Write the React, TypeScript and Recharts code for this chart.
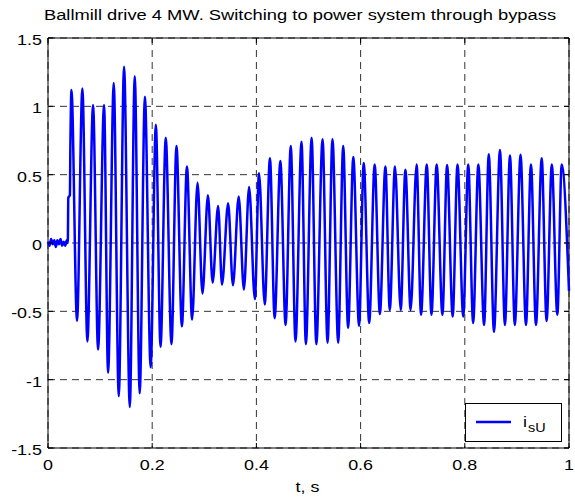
import { CartesianGrid, Line, LineChart, ReferenceArea, XAxis, YAxis } from "recharts";

// time / value pairs (t in s, current in p.u.)
const preTimes = [0, 0.003, 0.006, 0.009, 0.012, 0.015, 0.018, 0.021, 0.024, 0.027, 0.03, 0.033, 0.036, 0.038, 0.039, 0.042, 0.043];
const preValues = [0.01, -0.02, 0.03, -0.01, 0.02, -0.03, 0.02, -0.01, 0.03, -0.02, 0.01, -0.02, 0.02, 0.0, 0.33, 0.35, 0.72];

const peakTimes = [
  0.045, 0.066, 0.0865, 0.1076, 0.1262, 0.146, 0.1665, 0.186, 0.207, 0.226, 0.2466, 0.2667, 0.287, 0.307, 0.3265, 0.3457,
  0.366, 0.386, 0.405, 0.426, 0.446, 0.466, 0.4866, 0.506, 0.527, 0.546, 0.5666, 0.586, 0.606, 0.627, 0.6476, 0.666, 0.686,
  0.7075, 0.727, 0.746, 0.766, 0.786, 0.8066, 0.826, 0.846, 0.8675, 0.8867, 0.907, 0.927, 0.9476, 0.967, 0.986,
];
const peakValues = [
  1.12, 1.13, 1.01, 1.01, 1.17, 1.29, 1.22, 1.07, 0.865, 0.77, 0.71, 0.56, 0.44, 0.35, 0.27, 0.29, 0.34, 0.41, 0.51, 0.62,
  0.6, 0.71, 0.74, 0.77, 0.76, 0.76, 0.71, 0.63, 0.585, 0.575, 0.56, 0.56, 0.536, 0.575, 0.575, 0.575, 0.57, 0.575, 0.575,
  0.575, 0.65, 0.68, 0.64, 0.645, 0.575, 0.62, 0.575, 0.575,
];

const troughTimes = [
  0.0557, 0.0756, 0.0961, 0.1153, 0.1358, 0.157, 0.176, 0.197, 0.216, 0.237, 0.257, 0.2766, 0.2965, 0.316, 0.334, 0.355,
  0.376, 0.397, 0.416, 0.435, 0.456, 0.475, 0.495, 0.515, 0.5366, 0.557, 0.576, 0.597, 0.6165, 0.637, 0.656, 0.677, 0.696,
  0.716, 0.736, 0.757, 0.7767, 0.797, 0.816, 0.837, 0.856, 0.877, 0.896, 0.9174, 0.9366, 0.957, 0.9776, 1.0,
];
const troughValues = [
  -0.57, -0.72, -0.78, -0.95, -1.12, -1.2, -1.1, -0.91, -0.76, -0.74, -0.61, -0.56, -0.37, -0.29, -0.305, -0.31, -0.34,
  -0.41, -0.45, -0.55, -0.6, -0.72, -0.74, -0.74, -0.73, -0.73, -0.62, -0.605, -0.585, -0.52, -0.49, -0.49, -0.49, -0.525,
  -0.525, -0.525, -0.537, -0.537, -0.585, -0.6, -0.65, -0.6, -0.6, -0.6, -0.6, -0.57, -0.525, -0.35,
];

const xTicks = [0, 0.2, 0.4, 0.6, 0.8, 1];
const yTicks = [-1.5, -1, -0.5, 0, 0.5, 1, 1.5];

const W = 575;
const H = 498;
const TOP = 38;
const LEFT = 48;
const RIGHT = 569;
const BOTTOM = 448;
const FONT = "'Liberation Sans', Arial, sans-serif";
const STRETCH = 1.28;

const data = [
  ...preTimes.map((t, i) => ({ t, i: preValues[i] })),
  ...peakTimes.map((t, i) => ({ t, i: peakValues[i] })),
  ...troughTimes.map((t, i) => ({ t, i: troughValues[i] })),
].sort((a, b) => a.t - b.t);

function XTick({ x, y, payload }: any) {
  return (
    <g>
      <line x1={x} x2={x} y1={BOTTOM} y2={BOTTOM - 5} stroke="#000" />
      <line x1={x} x2={x} y1={TOP} y2={TOP + 5} stroke="#000" />
      <text
        transform={`translate(${x},${y + 22}) scale(${STRETCH},1)`}
        textAnchor="middle"
        fontSize={14}
        fontFamily={FONT}
        fill="#000"
      >
        {String(payload.value)}
      </text>
    </g>
  );
}

function YTick({ x, y, payload }: any) {
  return (
    <g>
      <line x1={LEFT} x2={LEFT + 5} y1={y} y2={y} stroke="#000" />
      <line x1={RIGHT} x2={RIGHT - 5} y1={y} y2={y} stroke="#000" />
      <text
        transform={`translate(${x - 6},${y + 7}) scale(${STRETCH},1)`}
        textAnchor="end"
        fontSize={14}
        fontFamily={FONT}
        fill="#000"
      >
        {String(payload.value)}
      </text>
    </g>
  );
}

export default function App() {
  return (
    <div style={{ position: "absolute", left: 0, top: 0, width: W, height: H, background: "#fff" }}>
      <LineChart width={W} height={H} data={data} margin={{ top: TOP, right: W - RIGHT, bottom: 20, left: 0 }}>
        <CartesianGrid stroke="#333" strokeDasharray="7 5" />
        <XAxis
          dataKey="t"
          type="number"
          domain={[0, 1]}
          ticks={xTicks}
          height={30}
          axisLine={false}
          tickLine={false}
          tickSize={0}
          tickMargin={0}
          tick={<XTick />}
        />
        <YAxis
          type="number"
          domain={[-1.5, 1.5]}
          ticks={yTicks}
          width={LEFT}
          axisLine={false}
          tickLine={false}
          tickSize={0}
          tickMargin={0}
          tick={<YTick />}
        />
        <Line
          type="monotone"
          dataKey="i"
          name="isU"
          stroke="#0000ff"
          strokeWidth={2.5}
          dot={false}
          isAnimationActive={false}
        />
        <ReferenceArea x1={0} x2={1} y1={-1.5} y2={1.5} fill="none" fillOpacity={0} stroke="#000" strokeOpacity={1} />
      </LineChart>
      <svg width={W} height={H} style={{ position: "absolute", left: 0, top: 0, pointerEvents: "none" }}>
        <text
          transform="translate(300,20) scale(1.31,1)"
          textAnchor="middle"
          fontSize={14}
          fontFamily={FONT}
          fill="#000"
        >
          Ballmill drive 4 MW. Switching to power system through bypass
        </text>
        <text
          transform={`translate(307.5,492) scale(${STRETCH},1)`}
          textAnchor="middle"
          fontSize={14}
          fontFamily={FONT}
          fill="#000"
        >
          t, s
        </text>
        <g transform="translate(465,403)">
          <rect x={0.5} y={0.5} width={96} height={38} fill="#fff" stroke="#000" />
          <line x1={11} x2={46} y1={19} y2={19} stroke="#0000ff" strokeWidth={2.5} />
          <text transform={`translate(58,24) scale(${STRETCH},1)`} fontSize={14} fontFamily={FONT}>
            i
          </text>
          <text transform="translate(63,29) scale(1.2,1)" fontSize={12} fontFamily={FONT}>
            sU
          </text>
        </g>
      </svg>
    </div>
  );
}
